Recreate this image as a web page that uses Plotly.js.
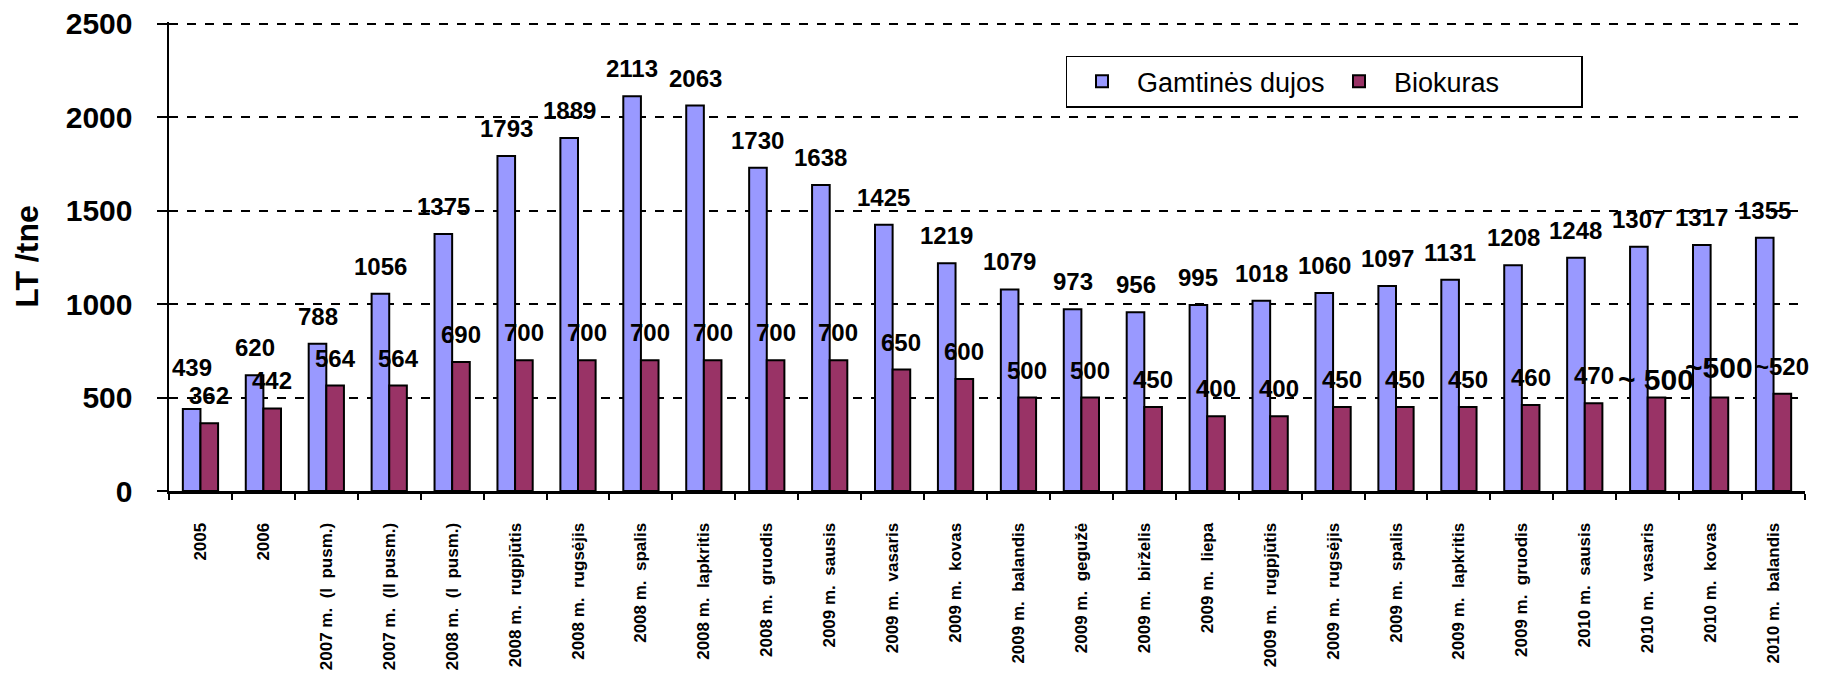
<!DOCTYPE html>
<html>
<head>
<meta charset="utf-8">
<script src="https://cdn.plot.ly/plotly-3.0.1.min.js"></script>
<style>html,body{margin:0;padding:0;background:#fff;}#chart{width:1827px;height:679px;}</style>
</head>
<body>
<div id="chart"></div>
<script>
const categories = ["2005","2006","2007 m.\u00a0\u00a0(I\u00a0\u00a0pusm.)","2007 m.\u00a0\u00a0(II\u00a0pusm.)","2008 m.\u00a0\u00a0(I\u00a0\u00a0pusm.)","2008 m.\u00a0\u00a0rugpjūtis","2008 m.\u00a0\u00a0rugsėjis","2008 m.\u00a0\u00a0spalis","2008 m.\u00a0\u00a0lapkritis","2008 m.\u00a0\u00a0gruodis","2009 m.\u00a0\u00a0sausis","2009 m.\u00a0\u00a0vasaris","2009 m.\u00a0\u00a0kovas","2009 m.\u00a0\u00a0balandis","2009 m.\u00a0\u00a0gegužė","2009 m.\u00a0\u00a0birželis","2009 m.\u00a0\u00a0liepa","2009 m.\u00a0\u00a0rugpjūtis","2009 m.\u00a0\u00a0rugsėjis","2009 m.\u00a0\u00a0spalis","2009 m.\u00a0\u00a0lapkritis","2009 m.\u00a0\u00a0gruodis","2010 m.\u00a0\u00a0sausis","2010 m.\u00a0\u00a0vasaris","2010 m.\u00a0\u00a0kovas","2010 m.\u00a0\u00a0balandis"];
const gasValues = [439,620,788,1056,1375,1793,1889,2113,2063,1730,1638,1425,1219,1079,973,956,995,1018,1060,1097,1131,1208,1248,1307,1317,1355];
const bioValues = [362,442,564,564,690,700,700,700,700,700,700,650,600,500,500,450,400,400,450,450,450,460,470,500,500,520];
const gasLabels = gasValues.map(String);
const bioLabels = ["362","442","564","564","690","700","700","700","700","700","700","650","600","500","500","450","400","400","450","450","450","460","470","~ 500","~500","~520"];
const seriesNames = ["Gamtinės dujos","Biokuras"];
const yTicks = [0, 500, 1000, 1500, 2000, 2500];

// style settings (not data)
const FONT = "Liberation Sans, Arial, sans-serif";
const colors = ["#9999FF","#993366"];
const margin = {l:169, r:22, t:22, b:188};
const W = 1827, H = 679;
const bargap = 0.44;
const plotW = W - margin.l - margin.r;
const barW = plotW / categories.length * (1 - bargap) / 2;
const labelOverrides = {
  gas: {0: {yshift: 26}},
  bio: {23: {size: 30, yshift: 0}, 24: {size: 30, yshift: 12}, 25: {size: 24, yshift: 12}}
};

const traces = [gasValues, bioValues].map((vals, k) => ({
  type: "bar",
  name: seriesNames[k],
  x: categories,
  y: vals,
  marker: {color: colors[k], line: {color: "#000", width: 2}},
  hoverinfo: "x+y"
}));

const annotations = [];
[[gasValues, gasLabels, -1, labelOverrides.gas], [bioValues, bioLabels, 1, labelOverrides.bio]].forEach(([vals, labs, dir, ov]) => {
  vals.forEach((v, i) => {
    const o = ov[i] || {};
    annotations.push({
      x: i, y: v, xref: "x", yref: "y",
      text: labs[i], showarrow: false,
      xanchor: "center", yanchor: "bottom",
      xshift: dir * barW / 2,
      yshift: (o.yshift !== undefined ? o.yshift : 12),
      font: {family: FONT, size: o.size || 24, color: "#000", weight: 700}
    });
  });
});

const layout = {
  width: W, height: H,
  margin: margin,
  paper_bgcolor: "#fff", plot_bgcolor: "#fff",
  font: {family: FONT, color: "#000"},
  barmode: "group", bargap: bargap, bargroupgap: 0,
  showlegend: true,
  legend: {
    orientation: "h", x: 0.548, y: 0.928, xanchor: "left", yanchor: "top",
    font: {family: FONT, size: 27, color: "#000"},
    bordercolor: "#000", borderwidth: 1.5, bgcolor: "#fff",
    itemwidth: 60, entrywidth: 182, traceorder: "normal"
  },
  xaxis: {
    type: "category", range: [-0.5, categories.length - 0.5],
    showline: true, linecolor: "#000", linewidth: 3,
    ticks: "outside", tickson: "boundaries", ticklen: 6, tickwidth: 2, tickcolor: "#000",
    tickangle: -90, tickfont: {family: FONT, size: 17, weight: 700, color: "#000"},
    ticklabelstandoff: 22, showgrid: false, zeroline: false, automargin: false, fixedrange: true
  },
  yaxis: {
    range: [0, 2510], tickvals: yTicks,
    showline: true, linecolor: "#000", linewidth: 2.5,
    ticks: "outside", ticklen: 10, tickwidth: 2, tickcolor: "#000",
    tickfont: {family: FONT, size: 30, weight: 700, color: "#000"},
    ticklabelstandoff: 18,
    showgrid: true, gridcolor: "#000", gridwidth: 2, griddash: "dash",
    zeroline: false, automargin: false, fixedrange: true,
    title: {text: "LT /tne", font: {family: FONT, size: 32, weight: 700, color: "#000"}, standoff: 18}
  },
  annotations: annotations
};

Plotly.newPlot("chart", traces, layout, {displayModeBar: false, staticPlot: true});
</script>
</body>
</html>
